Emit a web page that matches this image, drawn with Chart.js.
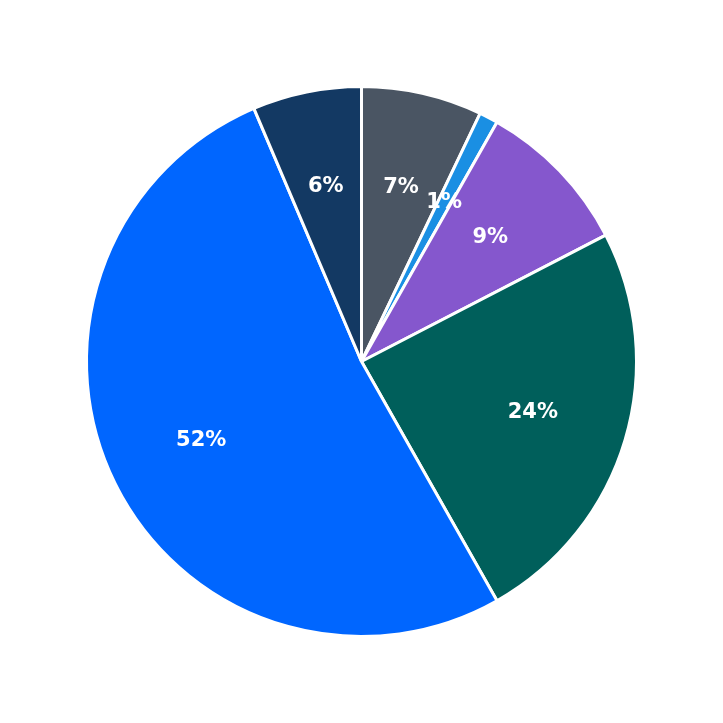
<!DOCTYPE html>
<html>
<head>
<meta charset="utf-8">
<script src="https://cdn.jsdelivr.net/npm/chart.js@4"></script>
<style>
  html, body { margin: 0; padding: 0; background: #fff; }
  #wrap { width: 723px; height: 723px; }
</style>
</head>
<body>
<div id="wrap"><canvas id="chart"></canvas></div>
<script>
const categories = ['A', 'B', 'C', 'D', 'E', 'F'];
const values = [7.1, 1.1, 9.2, 24.4, 51.8, 6.4];
const sliceLabels = ['7%', '1%', '9%', '24%', '52%', '6%'];
const colors = ['#4a5563', '#1a8fe3', '#8557cd', '#005f5b', '#0066ff', '#133963'];

// draw the percentage text inside each slice
const sliceText = {
    id: 'sliceText',
    afterDatasetsDraw(chart) {
        const ctx = chart.ctx;
        const arcs = chart.getDatasetMeta(0).data;
        ctx.save();
        ctx.fillStyle = '#ffffff';
        ctx.font = 'bold 21px "DejaVu Sans"';
        ctx.textAlign = 'center';
        ctx.textBaseline = 'middle';
        arcs.forEach((arc, i) => {
            const mid = (arc.startAngle + arc.endAngle) / 2;
            const r = arc.outerRadius * 0.65;
            ctx.fillText(sliceLabels[i], arc.x + Math.cos(mid) * r, arc.y + Math.sin(mid) * r);
        });
        ctx.restore();
    }
};

new Chart(document.getElementById('chart').getContext('2d'), {
    type: 'pie',
    data: {
        labels: categories,
        datasets: [{
            data: values,
            backgroundColor: colors,
            borderColor: '#ffffff',
            borderWidth: 3
        }]
    },
    options: {
        responsive: true,
        maintainAspectRatio: false,
        animation: false,
        layout: { padding: 85 },
        plugins: {
            legend: { display: false },
            tooltip: { enabled: false }
        }
    },
    plugins: [sliceText]
});
</script>
</body>
</html>
